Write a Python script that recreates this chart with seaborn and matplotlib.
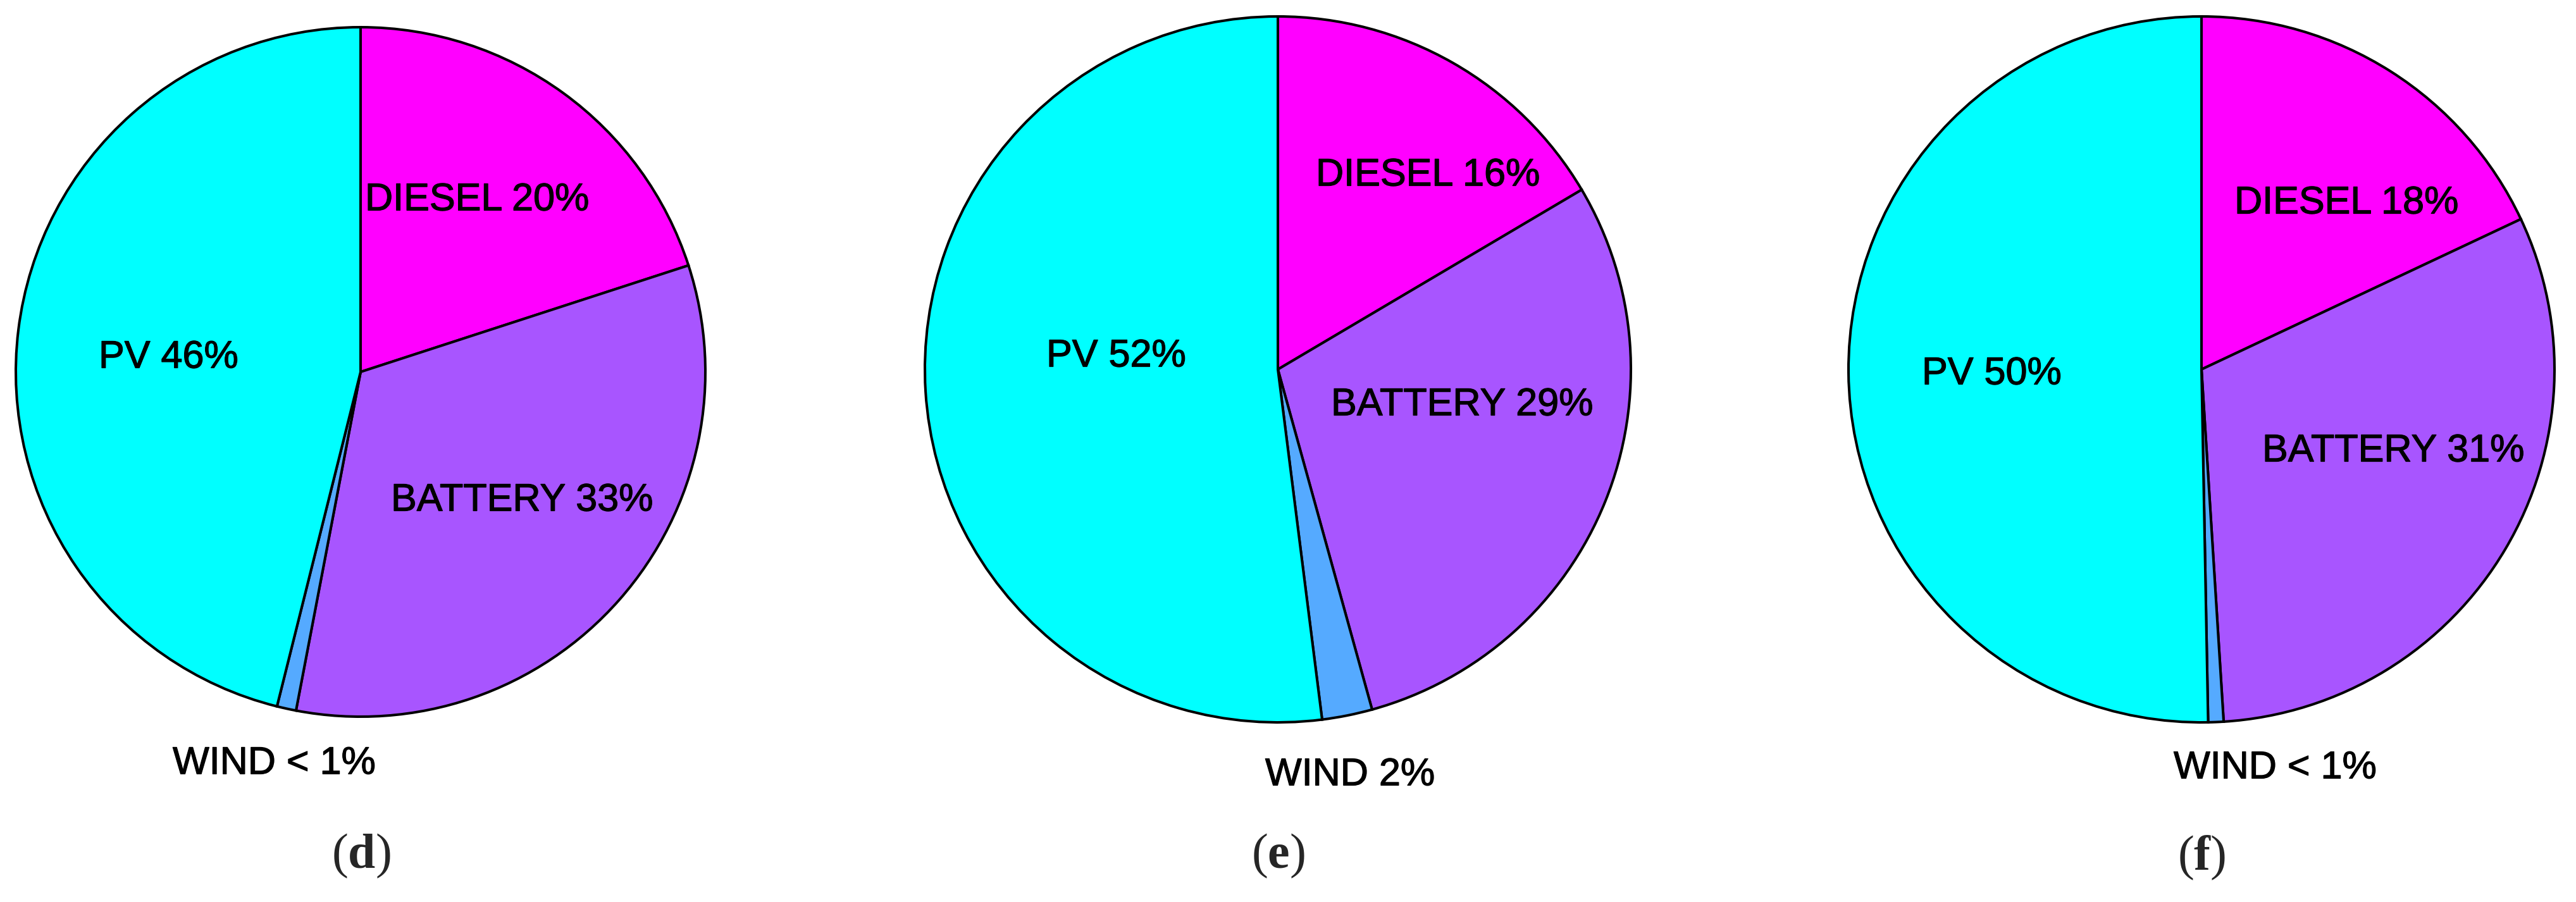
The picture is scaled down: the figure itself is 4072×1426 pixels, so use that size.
import matplotlib
matplotlib.use('Agg')
import matplotlib.pyplot as plt
import matplotlib.patheffects as pe
import seaborn as sns

# 数据: 各能源份额 (%)
sources = ['DIESEL', 'BATTERY', 'WIND', 'PV']
share_d = [20.0, 33.0, 0.9, 46.1]
share_e = [16.5, 29.2, 2.3, 52.0]
share_f = [18.0, 31.0, 0.7, 50.3]
labels_d = ['DIESEL 20%', 'BATTERY 33%', 'WIND < 1%', 'PV 46%']
labels_e = ['DIESEL 16%', 'BATTERY 29%', 'WIND 2%', 'PV 52%']
labels_f = ['DIESEL 18%', 'BATTERY 31%', 'WIND < 1%', 'PV 50%']
panel_names = ['d', 'e', 'f']

colors = ['#FF00FF', '#A855FF', '#55AAFF', '#00FFFF']

sns.set_theme(style='white')
plt.rcParams['font.family'] = ['Liberation Sans', 'DejaVu Sans']
plt.rcParams['mathtext.fontset'] = 'custom'
plt.rcParams['mathtext.bf'] = 'Liberation Serif:bold'
plt.rcParams['mathtext.rm'] = 'Liberation Serif'

W, H = 4072, 1426
fig = plt.figure(figsize=(W / 100, H / 100), dpi=100)

# 布局 (像素): 饼图中心和半径, 标签位置
layout = [
    dict(cx=570, cy=588, r=545,
         pos=[(577, 317), (618, 792), (273, 1208), (156, 566)], cap=(571, 1353)),
    dict(cx=2020, cy=584, r=558,
         pos=[(2080, 278), (2104, 641), (2000, 1226), (1654, 564)], cap=(2020, 1353)),
    dict(cx=3480, cy=584, r=558,
         pos=[(3532, 322), (3576, 714), (3436, 1215), (3038, 592)], cap=(3480, 1356)),
]

thick = [pe.withStroke(linewidth=0.9, foreground='black')]

for shares, labels, name, lay in zip([share_d, share_e, share_f],
                                     [labels_d, labels_e, labels_f],
                                     panel_names, layout):
    cx, cy, r = lay['cx'], lay['cy'], lay['r']
    ax = fig.add_axes([(cx - r) / W, 1 - (cy + r) / H, 2 * r / W, 2 * r / H])
    wedges, _ = ax.pie(shares, colors=colors, startangle=90, counterclock=False,
                       wedgeprops=dict(edgecolor='black', linewidth=2.9))
    for w in wedges:
        w.set_clip_on(False)
    ax.set_xlim(-1, 1)
    ax.set_ylim(-1, 1)
    ax.set_axis_off()
    for lab, (px, py) in zip(labels, lay['pos']):
        ax.text((px - cx) / r, (cy - py) / r, lab, fontsize=44,
                ha='left', va='center', color='black', clip_on=False,
                path_effects=thick)
    capx, capy = lay['cap']
    fig.text(capx / W, 1 - capy / H, r'($\mathbf{' + name + '}$)',
             fontsize=56, family='Liberation Serif', ha='center', va='center')

fig.savefig('out.png', dpi=100, facecolor='white')
